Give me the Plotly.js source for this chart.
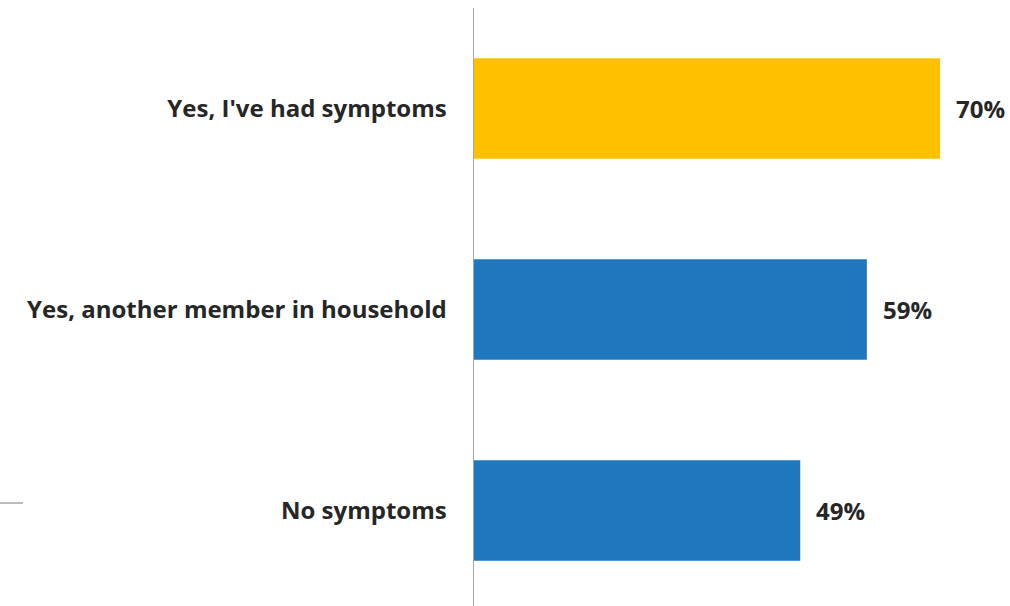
<!DOCTYPE html>
<html><head><meta charset="utf-8">
<script src="https://cdn.plot.ly/plotly-3.0.1.min.js"></script>
<style>html,body{margin:0;padding:0;background:#fff}#chart{width:1010px;height:606px}</style>
</head><body><div id="chart"></div>
<script>
const categories = ["Yes, I've had symptoms", "Yes, another member in household", "No symptoms"];
const values = [70, 59, 49];
const valueLabels = ["70%", "59%", "49%"];
const barColors = ["#FFC000", "#1F77BD", "#1F77BD"];

const fontFam = "'Open Sans', sans-serif";
const trace = {
  type: 'bar', orientation: 'h',
  x: values, y: categories,
  marker: {color: barColors},
  width: 0.5,
  hoverinfo: 'none'
};
const annotations = values.map((v, i) => ({
  x: v, y: categories[i], xref: 'x', yref: 'y',
  text: valueLabels[i], showarrow: false, xanchor: 'left', xshift: 14,
  font: {family: fontFam, size: 24, color: '#262626', weight: 700}
}));
const layout = {
  width: 1010, height: 606,
  margin: {l: 474, r: 0, t: 8, b: 0, pad: 0},
  paper_bgcolor: '#fff', plot_bgcolor: '#fff',
  showlegend: false,
  bargap: 0.5,
  xaxis: {range: [0, 80.5], visible: false, fixedrange: true},
  yaxis: {
    type: 'category', range: [2.475, -0.5],
    showline: true, linecolor: '#a6a6a6', linewidth: 1.5,
    showgrid: false, zeroline: false, ticks: '',
    ticklabelstandoff: 21,
    tickfont: {family: fontFam, size: 24, color: '#262626', weight: 700}
  },
  annotations: annotations,
  shapes: [{type: 'line', xref: 'paper', yref: 'paper',
    x0: -474/536, x1: -451/536, y0: 103/598, y1: 103/598,
    line: {color: '#a6a6a6', width: 1.5}}]
};
Plotly.newPlot('chart', [trace], layout, {displayModeBar: false, staticPlot: true});
</script></body></html>
